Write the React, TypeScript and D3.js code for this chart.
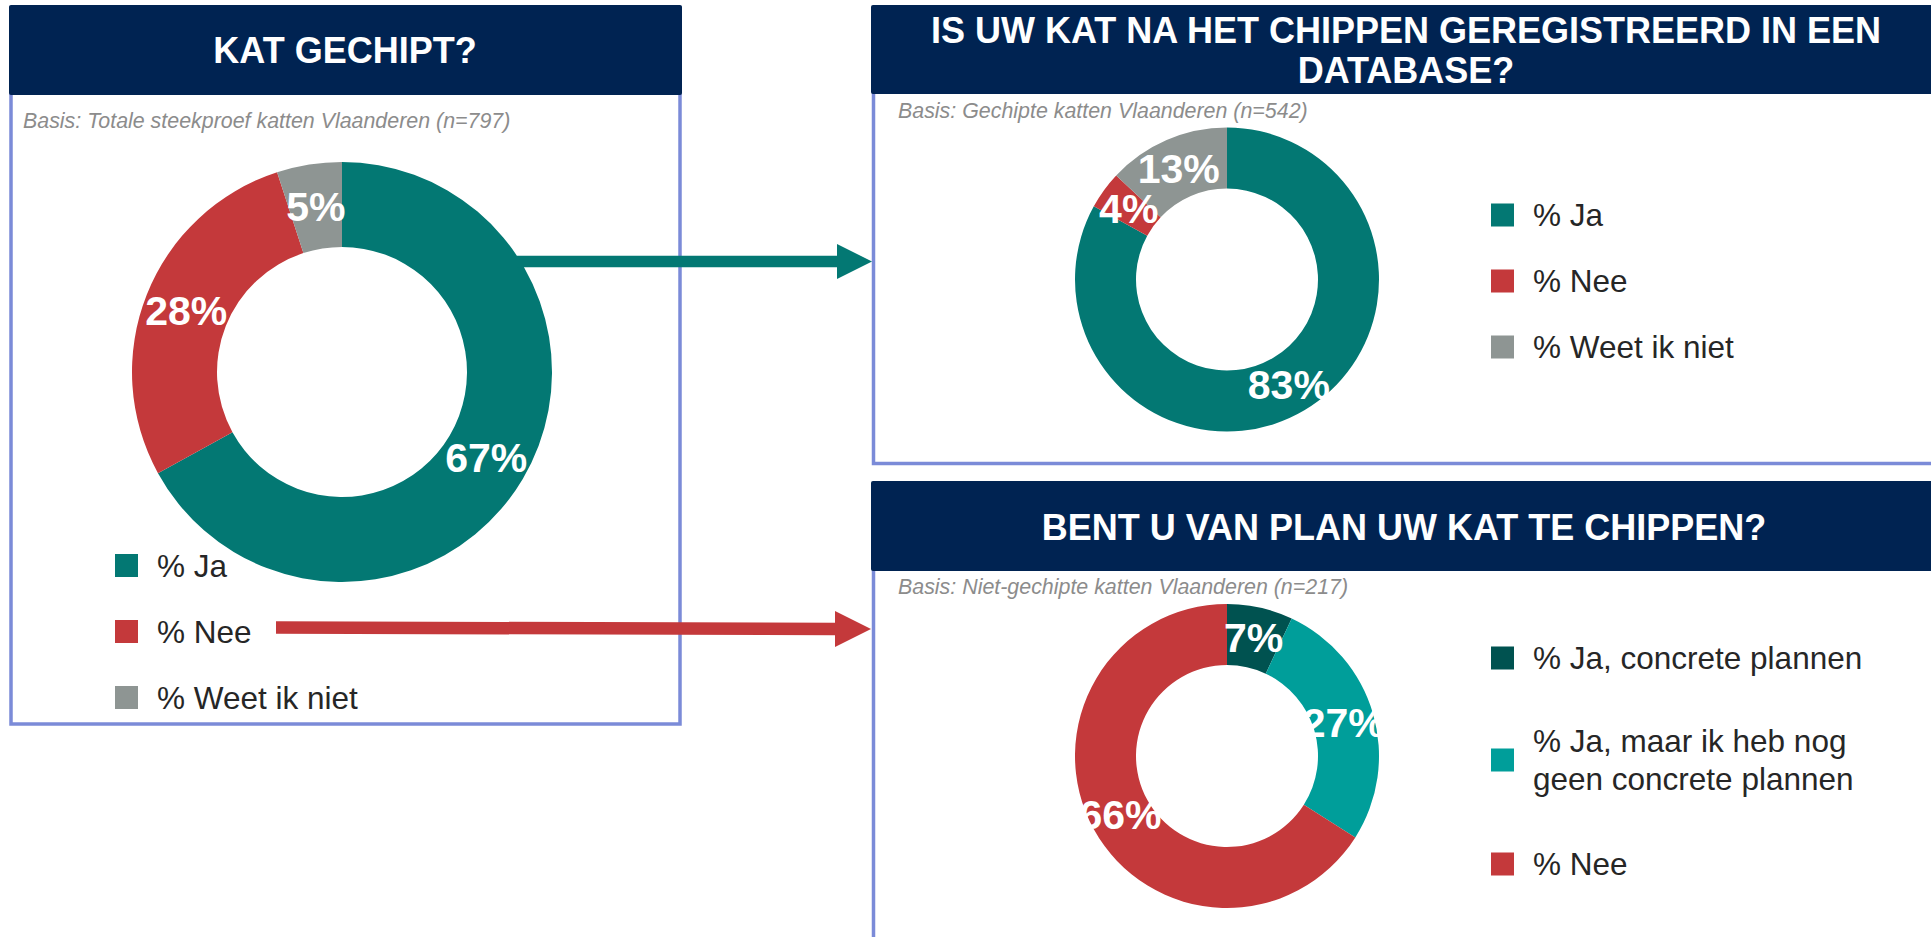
import React from "react";
import * as d3 from "d3";

// ---- Data ----
const chipLabels = ["% Ja", "% Nee", "% Weet ik niet"];
const chipValues = [67, 28, 5];
const chipColors = ["#037873", "#c4393b", "#8e9593"];

const dbLabels = ["% Ja", "% Nee", "% Weet ik niet"];
const dbValues = [83, 4, 13];
const dbColors = ["#037873", "#c4393b", "#8e9593"];

const planLabels = [
  ["% Ja, concrete plannen"],
  ["% Ja, maar ik heb nog", "geen concrete plannen"],
  ["% Nee"],
];
const planValues = [7, 27, 66];
const planColors = ["#005250", "#009e9a", "#c4393b"];

const titles = [
  ["KAT GECHIPT?"],
  ["IS UW KAT NA HET CHIPPEN GEREGISTREERD IN EEN", "DATABASE?"],
  ["BENT U VAN PLAN UW KAT TE CHIPPEN?"],
];
const bases = [
  "Basis: Totale steekproef katten Vlaanderen (n=797)",
  "Basis: Gechipte katten Vlaanderen (n=542)",
  "Basis: Niet-gechipte katten Vlaanderen (n=217)",
];

const FONT = "'Liberation Sans', Arial, Helvetica, sans-serif";
const NAVY = "#002352";
const BORDER = "#7b8bd8";

type DonutProps = {
  values: number[];
  colors: string[];
  cx: number;
  cy: number;
  r: number;
  ir: number;
};

function Donut({ values, colors, cx, cy, r, ir }: DonutProps) {
  const pie = d3.pie<number>().sort(null).value((d) => d);
  const arcs = pie(values);
  const arc = d3.arc<d3.PieArcDatum<number>>().innerRadius(ir).outerRadius(r);
  return (
    <g transform={`translate(${cx},${cy})`}>
      {arcs.map((a, i) => (
        <path key={i} d={arc(a) || ""} fill={colors[i]} />
      ))}
      {arcs.map((a, i) => {
        const [x, y] = arc.centroid(a);
        return (
          <text
            key={"t" + i}
            x={x}
            y={y + 14.5}
            textAnchor="middle"
            fontFamily={FONT}
            fontWeight="bold"
            fontSize={41}
            fill="#ffffff"
          >
            {values[i]}%
          </text>
        );
      })}
    </g>
  );
}

type LegendProps = {
  labels: string[][];
  colors: string[];
  x: number;
  ys: number[];
};

function Legend({ labels, colors, x, ys }: LegendProps) {
  return (
    <g>
      {labels.map((lines, i) => {
        const cy = ys[i];
        const lh = 38;
        const top = cy - ((lines.length - 1) * lh) / 2;
        return (
          <g key={i}>
            <rect x={x} y={cy - 11.5} width={23} height={23} fill={colors[i]} />
            {lines.map((ln, j) => (
              <text
                key={j}
                x={x + 42}
                y={top + j * lh + 11}
                fontFamily={FONT}
                fontSize={31.5}
                fill="#262626"
              >
                {ln}
              </text>
            ))}
          </g>
        );
      })}
    </g>
  );
}

function Header({ x, y, w, h, lines, cx, baselines }: { x: number; y: number; w: number; h: number; lines: string[]; cx: number; baselines: number[] }) {
  return (
    <g>
      <rect x={x} y={y} width={w} height={h} rx={2} fill={NAVY} />
      {lines.map((ln, i) => (
        <text
          key={i}
          x={cx}
          y={baselines[i]}
          textAnchor="middle"
          fontFamily={FONT}
          fontWeight="bold"
          fontSize={36}
          fill="#ffffff"
        >
          {ln}
        </text>
      ))}
    </g>
  );
}

function Basis({ x, y, text }: { x: number; y: number; text: string }) {
  return (
    <text x={x} y={y} fontFamily={FONT} fontStyle="italic" fontSize={21.4} fill="#8c8c8c">
      {text}
    </text>
  );
}

export default function App() {
  const W = 1931;
  const H = 937;
  const line = d3.line<[number, number]>();
  return (
    <div style={{ position: "fixed", left: 0, top: 0, width: W, height: H, background: "#fff" }}>
      <svg width={W} height={H} style={{ display: "block" }}>
        <rect width={W} height={H} fill="#ffffff" />

        {/* Panel 1 */}
        <rect x={11} y={8} width={669} height={716} fill="none" stroke={BORDER} strokeWidth={3.5} />
        <Header x={9} y={5} w={673} h={90} lines={titles[0]} cx={345} baselines={[63]} />
        <Basis x={23} y={128} text={bases[0]} />
        <Donut values={chipValues} colors={chipColors} cx={342} cy={372} r={210} ir={125} />
        <Legend labels={chipLabels.map((l) => [l])} colors={chipColors} x={115} ys={[565.5, 631.5, 697.5]} />

        {/* Panel 2 */}
        <path d={line([[873.5, 60], [873.5, 463.5], [1935, 463.5]]) || ""} fill="none" stroke={BORDER} strokeWidth={3.5} />
        <Header x={871} y={5} w={1070} h={89} lines={titles[1]} cx={1406} baselines={[42.5, 82.5]} />
        <Basis x={898} y={118} text={bases[1]} />
        <Donut values={dbValues} colors={dbColors} cx={1227} cy={279.5} r={152} ir={91} />
        <Legend labels={dbLabels.map((l) => [l])} colors={dbColors} x={1491} ys={[215, 281, 347]} />

        {/* Panel 3 */}
        <path d={line([[873.5, 540], [873.5, 945]]) || ""} fill="none" stroke={BORDER} strokeWidth={3.5} />
        <Header x={871} y={481} w={1070} h={90} lines={titles[2]} cx={1404} baselines={[540]} />
        <Basis x={898} y={594} text={bases[2]} />
        <Donut values={planValues} colors={planColors} cx={1227} cy={756} r={152} ir={91} />
        <Legend labels={planLabels} colors={planColors} x={1491} ys={[658, 760, 864]} />

        {/* Arrows */}
        <path d={line([[517, 261.5], [838, 261.5]]) || ""} stroke="#037873" strokeWidth={11.5} fill="none" />
        <path d={line([[837, 244], [872, 261.5], [837, 279]]) + "Z"} fill="#037873" />
        <path d={line([[276, 627.5], [836, 629]]) || ""} stroke="#c4393b" strokeWidth={12.5} fill="none" />
        <path d={line([[835, 611], [871, 629], [835, 647]]) + "Z"} fill="#c4393b" />
      </svg>
    </div>
  );
}
